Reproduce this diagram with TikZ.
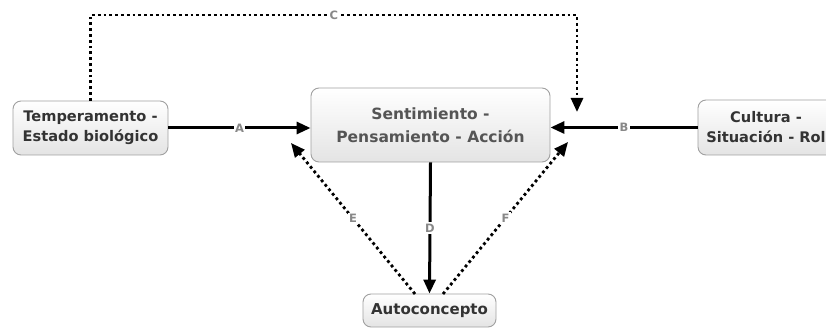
\documentclass[tikz,border=0pt]{standalone}
\usepackage{fontspec}
\setmainfont{DejaVu Sans}
\usetikzlibrary{arrows.meta,shadings}
\definecolor{boxline}{HTML}{A0A0A0}
\definecolor{boxbot}{HTML}{E4E4E4}
\definecolor{txtdark}{HTML}{333333}
\definecolor{txtmid}{HTML}{555555}
\definecolor{lblgray}{HTML}{888888}
\begin{document}
\begin{tikzpicture}[x=1pt,y=-1pt,
  conbox/.style={draw=boxline, line width=0.9pt, rounded corners=8pt,
    top color=white, bottom color=boxbot, align=center, inner sep=0pt,
    font=\fontsize{14.6}{20}\selectfont\bfseries, text=txtdark},
  solidcon/.style={line width=3pt, -{Triangle[length=14pt,width=12pt]}},
  dotcon/.style={line width=2.8pt, dash pattern=on 2.8pt off 3pt, -{Triangle[length=14pt,width=12pt]}},
  lbl/.style={fill=white, inner sep=1.5pt, text=lblgray, font=\fontsize{11.5}{12}\selectfont\bfseries}]
\useasboundingbox (0,0) rectangle (826,328);
\clip (0,0) rectangle (826,328);
% nodes
\node[conbox, minimum width=155pt, minimum height=54pt] (temp) at (90.5,128) {Temperamento -\\Estado biológico};
\node[conbox, minimum width=239pt, minimum height=74pt, text=txtmid,
      font=\fontsize{15.5}{23}\selectfont\bfseries] (sent) at (430.5,125) {Sentimiento -\\Pensamiento - Acción};
\node[conbox, minimum width=136pt, minimum height=55pt] (cult) at (766,127.5) {Cultura -\\Situación - Rol};
\node[conbox, minimum width=133pt, minimum height=33pt,
      font=\fontsize{15}{18}\selectfont\bfseries] (auto) at (429.5,310.5) {Autoconcepto};
% coordinates
\coordinate (ctop) at (577,15);
\coordinate (cend) at (577,112);
\coordinate (etip) at (291,143);
\coordinate (ftip) at (568,142);
\coordinate (estart) at (415,294);
\coordinate (fstart) at (443,294);
% connectors
\draw[solidcon] (temp.east) -- node[lbl]{A} (temp.east -| sent.west);
\draw[solidcon] (cult.west) -- node[lbl]{B} (cult.west -| sent.east);
\draw[dotcon] (temp.north) -- (temp.north |- ctop) -- node[lbl]{C} (ctop) -- (cend);
\draw[solidcon] (sent.south) -- node[lbl]{D} (auto.north);
\draw[dotcon] (estart) -- node[lbl]{E} (etip);
\draw[dotcon] (fstart) -- node[lbl]{F} (ftip);
\end{tikzpicture}
\end{document}
